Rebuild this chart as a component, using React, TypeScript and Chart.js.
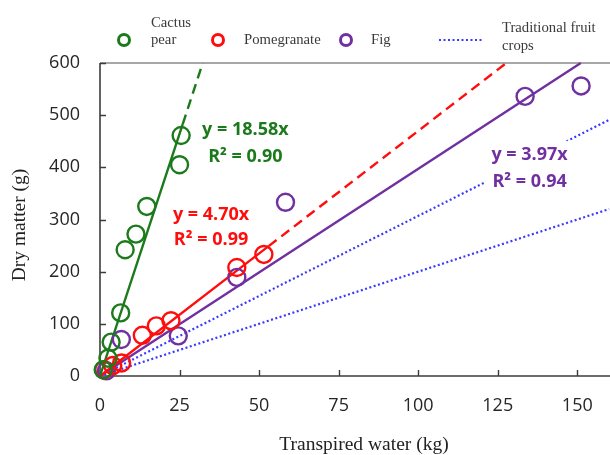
import React, { useEffect, useRef } from 'react';
import { Chart, registerables } from 'chart.js';
Chart.register(...registerables);

// ---- observed points ----
const cactusX = [1.0, 2.5, 3.5, 6.5, 7.9, 11.3, 14.7, 25.0, 25.5];
const cactusY = [12, 34, 65, 121, 242, 272, 325, 405, 461];
const pomegranateX = [1.2, 4.0, 6.8, 13.3, 17.7, 22.3, 43.0, 51.5];
const pomegranateY = [12, 20, 25, 78, 96, 106, 208, 233];
const figX = [2.0, 6.7, 24.6, 43.0, 58.3, 133.6, 151.2];
const figY = [10, 70, 77, 189, 333, 536, 556];

// ---- fitted / reference lines (end points) ----
const cactusSolidX = [0, 26];
const cactusSolidY = [0, 483];
const cactusDashX = [26, 32.3];
const cactusDashY = [483, 600];
const pomSolidX = [0, 53];
const pomSolidY = [0, 249];
const pomDashX = [53, 127.7];
const pomDashY = [249, 600];
const figFitX = [0, 151.1];
const figFitY = [0, 600];
const tradUpperX = [0, 160];
const tradUpperY = [0, 491];
const tradLowerX = [0, 160];
const tradLowerY = [0, 320];

// ---- ticks ----
const xTicks = [0, 25, 50, 75, 100, 125, 150];
const yTicks = [0, 100, 200, 300, 400, 500, 600];

// ---- texts ----
const xTitle = 'Transpired water (kg)';
const yTitle = 'Dry matter (g)';
const legendCactus = ['Cactus', 'pear'];
const legendPom = ['Pomegranate'];
const legendFig = ['Fig'];
const legendTrad = ['Traditional fruit', 'crops'];

const GREEN = '#1b7a1b';
const RED = '#ff0d0d';
const PURPLE = '#7030a0';
const BLUE = '#3a3aff';

const annotations = [
  { lines: ['y = 18.58x', 'R² = 0.90'], x: 45.7, y: [472, 420], color: GREEN, bg: false },
  { lines: ['y = 4.70x', 'R² = 0.99'], x: 34.9, y: [309, 261], color: RED, bg: false },
  { lines: ['y = 3.97x', 'R² = 0.94'], x: 135, y: [424, 372], color: PURPLE, bg: true },
];

const zip = (xs: number[], ys: number[]) => xs.map((x, i) => ({ x, y: ys[i] }));

const scatterDs = (label: string, xs: number[], ys: number[], color: string) => ({
  label,
  data: zip(xs, ys),
  borderColor: color,
  backgroundColor: 'rgba(0,0,0,0)',
  pointStyle: 'circle',
  pointRadius: 8.5,
  pointBorderWidth: 2.4,
  showLine: false,
  clip: false as any,
});

const lineDs = (label: string, xs: number[], ys: number[], color: string, dash: number[], width = 2.4) => ({
  label,
  data: zip(xs, ys),
  borderColor: color,
  backgroundColor: color,
  borderWidth: width,
  borderDash: dash,
  borderCapStyle: 'butt',
  pointRadius: 0,
  showLine: true,
  clip: false as any,
});

const decorPlugin = {
  id: 'decor',
  beforeDatasetsDraw(chart: any) {
    const { ctx, chartArea: a, scales } = chart;
    const x = scales.x;
    const y = scales.y;
    ctx.save();
    ctx.lineCap = 'butt';
    // top frame
    ctx.strokeStyle = '#8a8a8a';
    ctx.lineWidth = 1.3;
    ctx.beginPath();
    ctx.moveTo(a.left, a.top);
    ctx.lineTo(a.right + 5, a.top);
    ctx.stroke();
    // axes
    ctx.strokeStyle = '#3c3c3c';
    ctx.lineWidth = 1.6;
    ctx.beginPath();
    ctx.moveTo(a.left, a.top);
    ctx.lineTo(a.left, a.bottom);
    ctx.lineTo(a.right + 5, a.bottom);
    ctx.stroke();
    // inward tick marks
    ctx.lineWidth = 1.4;
    ctx.beginPath();
    yTicks.forEach((v) => {
      if (v === 0) return;
      const py = Math.round(y.getPixelForValue(v)) + 0.5;
      ctx.moveTo(a.left, py);
      ctx.lineTo(a.left + 6, py);
    });
    xTicks.forEach((v) => {
      if (v === 0) return;
      const px = Math.round(x.getPixelForValue(v)) + 0.5;
      ctx.moveTo(px, a.bottom);
      ctx.lineTo(px, a.bottom - 6);
    });
    ctx.stroke();
    ctx.restore();
  },
  afterDatasetsDraw(chart: any) {
    const { ctx, scales } = chart;
    const x = scales.x;
    const y = scales.y;
    ctx.save();
    ctx.font = 'bold 18px "Open Sans", sans-serif';
    ctx.textAlign = 'center';
    ctx.textBaseline = 'middle';
    annotations.forEach((an) => {
      const px = x.getPixelForValue(an.x);
      if (an.bg) {
        const w = Math.max(...an.lines.map((l) => ctx.measureText(l).width)) + 12;
        const top = y.getPixelForValue(an.y[0]) - 14;
        const bottom = y.getPixelForValue(an.y[an.y.length - 1]) + 14;
        ctx.fillStyle = '#ffffff';
        ctx.fillRect(px - w / 2, top, w, bottom - top);
      }
      ctx.fillStyle = an.color;
      an.lines.forEach((l, i) => {
        ctx.fillText(l, px, y.getPixelForValue(an.y[i]));
      });
    });
    ctx.restore();
  },
  afterDraw(chart: any) {
    const { ctx } = chart;
    ctx.save();
    // axis titles
    ctx.fillStyle = '#222222';
    ctx.font = '19.5px "Liberation Serif", "Times New Roman", serif';
    ctx.textAlign = 'center';
    ctx.textBaseline = 'middle';
    ctx.fillText(xTitle, 364, 445);
    ctx.translate(20, 225);
    ctx.rotate(-Math.PI / 2);
    ctx.fillText(yTitle, 0, 0);
    ctx.restore();

    // legend
    ctx.save();
    const circle = (cx: number, cy: number, color: string) => {
      ctx.strokeStyle = color;
      ctx.lineWidth = 3;
      ctx.beginPath();
      ctx.arc(cx, cy, 5.5, 0, Math.PI * 2);
      ctx.stroke();
    };
    ctx.font = '14.7px "Liberation Serif", "Times New Roman", serif';
    ctx.fillStyle = '#3a3a3a';
    ctx.textAlign = 'left';
    ctx.textBaseline = 'middle';
    circle(124, 40, GREEN);
    ctx.fillText(legendCactus[0], 151, 23);
    ctx.fillText(legendCactus[1], 151, 40);
    circle(218, 40, RED);
    ctx.fillText(legendPom[0], 244, 40);
    circle(346, 40, PURPLE);
    ctx.fillText(legendFig[0], 371, 40);
    ctx.strokeStyle = BLUE;
    ctx.lineWidth = 2;
    ctx.setLineDash([2, 2.5]);
    ctx.beginPath();
    ctx.moveTo(439, 40);
    ctx.lineTo(483, 40);
    ctx.stroke();
    ctx.setLineDash([]);
    ctx.fillText(legendTrad[0], 502, 28);
    ctx.fillText(legendTrad[1], 502, 46);
    ctx.restore();
  },
};

export default function App() {
  const ref = useRef<HTMLCanvasElement>(null);
  useEffect(() => {
    const chart = new Chart(ref.current as HTMLCanvasElement, {
      type: 'scatter',
      data: {
        datasets: [
          scatterDs('Cactus pear', cactusX, cactusY, GREEN),
          scatterDs('Pomegranate', pomegranateX, pomegranateY, RED),
          scatterDs('Fig', figX, figY, PURPLE),
          lineDs('Cactus fit', cactusSolidX, cactusSolidY, GREEN, []),
          lineDs('Cactus fit ext', cactusDashX, cactusDashY, GREEN, [10, 6]),
          lineDs('Pomegranate fit', pomSolidX, pomSolidY, RED, []),
          lineDs('Pomegranate fit ext', pomDashX, pomDashY, RED, [10, 6]),
          lineDs('Fig fit', figFitX, figFitY, PURPLE, []),
          lineDs('Traditional upper', tradUpperX, tradUpperY, BLUE, [2, 2.5], 2.2),
          lineDs('Traditional lower', tradLowerX, tradLowerY, BLUE, [2, 2.5], 2.2),
        ] as any,
      },
      options: {
        animation: false,
        responsive: false,
        devicePixelRatio: 1,
        events: [],
        layout: { padding: { top: 63, right: 2, left: 0, bottom: 0 } },
        plugins: { legend: { display: false }, tooltip: { enabled: false } },
        scales: {
          x: {
            type: 'linear',
            min: 0,
            max: 160,
            grid: { display: false, drawTicks: false },
            border: { display: false },
            afterFit: (s: any) => { s.height = 79; },
            afterBuildTicks: (s: any) => { s.ticks = xTicks.map((v) => ({ value: v })); },
            ticks: {
              padding: 19,
              color: '#262626',
              font: { family: '"Open Sans", sans-serif', size: 18 },
              callback: (v: any) => String(v),
            },
          },
          y: {
            type: 'linear',
            min: 0,
            max: 600,
            grid: { display: false, drawTicks: false },
            border: { display: false },
            afterFit: (s: any) => { s.width = 100; },
            afterBuildTicks: (s: any) => { s.ticks = yTicks.map((v) => ({ value: v })); },
            ticks: {
              padding: 20,
              color: '#262626',
              font: { family: '"Open Sans", sans-serif', size: 18 },
              callback: (v: any) => String(v),
            },
          },
        },
      } as any,
      plugins: [decorPlugin],
    });
    return () => chart.destroy();
  }, []);
  return (
    <div style={{ position: 'absolute', left: 0, top: 0, width: 610, height: 455, overflow: 'hidden', background: '#fff' }}>
      <canvas ref={ref} width={620} height={455} style={{ display: 'block' }} />
    </div>
  );
}
